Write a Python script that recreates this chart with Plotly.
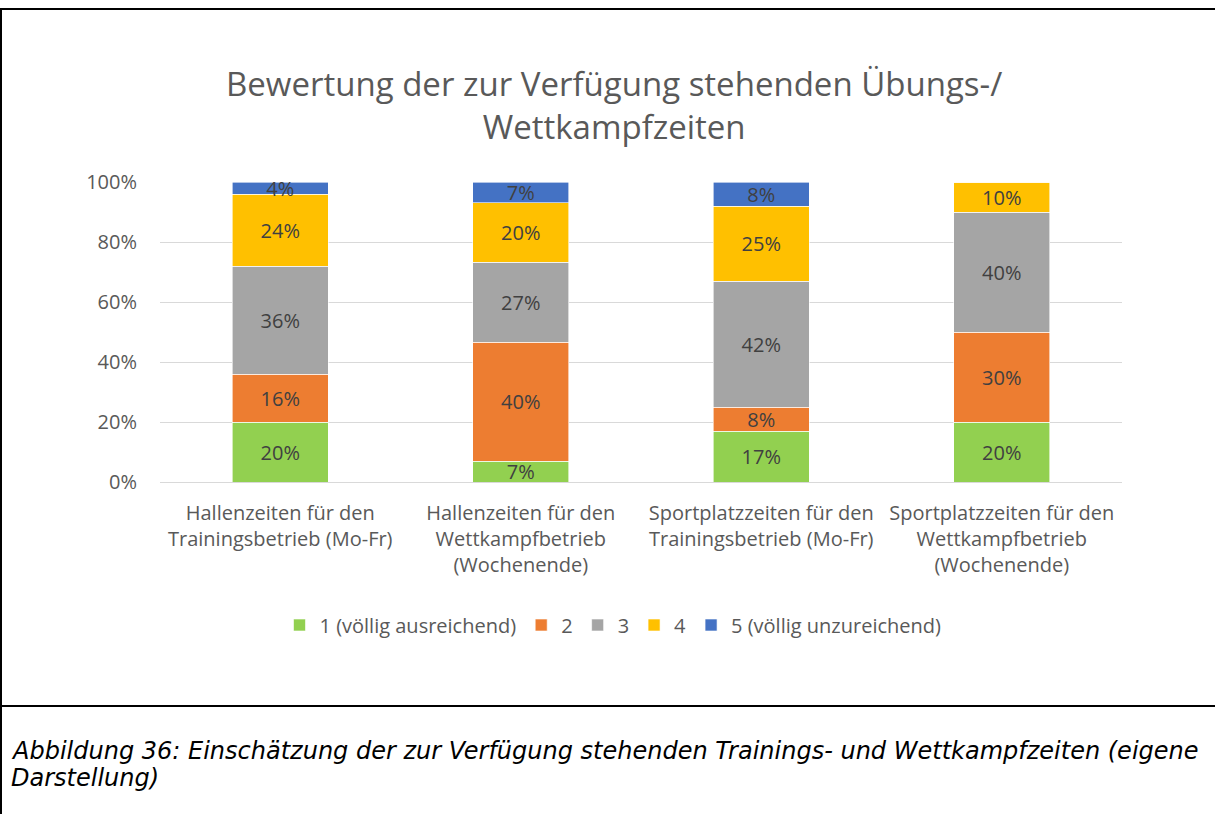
import plotly.graph_objects as go

# Survey categories (x axis) and ratings per answer level (percent)
categories = [
    "Hallenzeiten für den<br>Trainingsbetrieb (Mo-Fr)",
    "Hallenzeiten für den<br>Wettkampfbetrieb<br>(Wochenende)",
    "Sportplatzzeiten für den<br>Trainingsbetrieb (Mo-Fr)",
    "Sportplatzzeiten für den<br>Wettkampfbetrieb<br>(Wochenende)",
]
series_names = ["1 (völlig ausreichend)", "2", "3", "4", "5 (völlig unzureichend)"]
rating_1 = [20, 7, 17, 20]
rating_2 = [16, 40, 8, 30]
rating_3 = [36, 27, 42, 40]
rating_4 = [24, 20, 25, 10]
rating_5 = [4, 7, 8, 0]
colors = ["#92D050", "#ED7D31", "#A5A5A5", "#FFC000", "#4472C4"]
y_ticks = [0, 20, 40, 60, 80, 100]

W, H = 1215, 814
ML, MR, MT, MB = 160, 93, 182, 332
PW, PH = W - ML - MR, H - MT - MB


def px(x):
    return (x - ML) / PW


def py(y):
    return (H - MB - y) / PH


TEXT_FONT = "Open Sans"
GREY = "#595959"

fig = go.Figure()
for name, vals, col in zip(series_names, [rating_1, rating_2, rating_3, rating_4, rating_5], colors):
    fig.add_trace(go.Bar(
        x=categories,
        y=vals,
        name=name,
        marker=dict(color=col, line=dict(color="white", width=0.6)),
        text=[f"{v}%" if v else "" for v in vals],
        textposition="inside",
        insidetextanchor="middle",
        textangle=0,
        textfont=dict(family=TEXT_FONT, size=20, color="#404040"),
        cliponaxis=False,
    ))

fig.update_layout(
    width=W, height=H,
    margin=dict(l=ML, r=MR, t=MT, b=MB, autoexpand=False),
    barmode="stack",
    barnorm="percent",
    bargap=0.6,
    paper_bgcolor="white",
    plot_bgcolor="white",
    uniformtext=dict(minsize=20, mode="show"),
    font=dict(family=TEXT_FONT, color=GREY, size=20),
    showlegend=True,
    legend=dict(
        orientation="h", x=px(613), xanchor="center", y=py(625), yanchor="middle",
        font=dict(family=TEXT_FONT, size=20, color=GREY),
        itemwidth=30, traceorder="normal", tracegroupgap=0,
    ),
    xaxis=dict(
        showgrid=False, showline=True, linecolor="#D9D9D9", linewidth=1,
        ticks="", tickfont=dict(family=TEXT_FONT, size=20, color=GREY),
        ticklabelstandoff=13,
        fixedrange=True,
    ),
    yaxis=dict(
        range=[0, 100], tickvals=y_ticks, ticktext=[f"{t}%" for t in y_ticks],
        showgrid=True, gridcolor="#D9D9D9", gridwidth=1,
        zeroline=False, showline=False, ticks="",
        tickfont=dict(family=TEXT_FONT, size=20, color=GREY),
        ticklabelstandoff=22,
    ),
)

# Chart title
fig.add_annotation(
    text="Bewertung der zur Verfügung stehenden Übungs-/<br>Wettkampfzeiten",
    xref="paper", yref="paper", x=px(614), y=py(105), xanchor="center", yanchor="middle",
    showarrow=False, font=dict(family=TEXT_FONT, size=33, color=GREY), align="center",
)

# Figure caption, two lines
caption_lines = [
    "Abbildung 36: Einschätzung der zur Verfügung stehenden Trainings- und Wettkampfzeiten (eigene",
    "Darstellung)",
]
for line_text, yc in zip(caption_lines, [751, 778]):
    fig.add_annotation(
        text=f"<i>{line_text}</i>",
        xref="paper", yref="paper", x=px(9), y=py(yc), xanchor="left", yanchor="middle",
        showarrow=False, font=dict(family="DejaVu Sans", size=24, color="black"), align="left",
    )

# Frame lines: top edge, left edge, caption separator
line = dict(color="black", width=2)
fig.add_shape(type="line", xref="paper", yref="paper", x0=px(0), x1=px(W), y0=py(9), y1=py(9), line=line)
fig.add_shape(type="line", xref="paper", yref="paper", x0=px(1), x1=px(1), y0=py(8), y1=py(H), line=line)
fig.add_shape(type="line", xref="paper", yref="paper", x0=px(0), x1=px(W), y0=py(706), y1=py(706), line=line)

fig.write_html("out.html")
